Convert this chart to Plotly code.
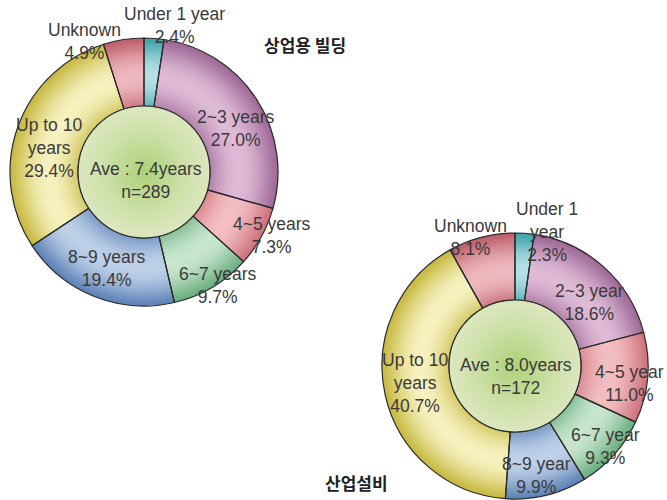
import math
import plotly.graph_objects as go

# ---- data ----
left_labels = ["Under 1 year", "2~3 years", "4~5 years", "6~7 years",
               "8~9 years", "Up to 10<br>years", "Unknown"]
left_shares = [2.4, 27.0, 7.3, 9.7, 19.4, 29.4, 4.9]
left_title = "상업용 빌딩"
left_center = "Ave : 7.4years<br>n=289"

right_labels = ["Under 1<br>year", "2~3 year", "4~5 year", "6~7 year",
                "8~9 year", "Up to 10<br>years", "Unknown"]
right_shares = [2.3, 18.6, 11.0, 9.3, 9.9, 40.7, 8.1]
right_title = "산업설비"
right_center = "Ave : 8.0years<br>n=172"

# (dark, light) per slice, for a radial shading
slice_colors = [
    ((62, 162, 170), (180, 224, 228)),
    ((158, 104, 150), (222, 186, 214)),
    ((206, 114, 124), (242, 190, 194)),
    ((106, 174, 126), (200, 230, 206)),
    ((92, 130, 182), (190, 208, 232)),
    ((198, 184, 64), (246, 241, 190)),
    ((190, 94, 106), (238, 184, 190)),
]

W, H = 667, 500
FONT = "Liberation Sans, Arial, sans-serif"
KFONT = "Noto Sans CJK KR, sans-serif"


def mix(a, b, w):
    return "rgb(%d,%d,%d)" % tuple(round(a[i] + (b[i] - a[i]) * w) for i in range(3))


def domain(cx, cy, r):
    return dict(x=[(cx - r) / W, (cx + r) / W],
                y=[max(0, (H - cy - r) / H), min(1, (H - cy + r) / H)])


def add_donut(fig, values, cx, cy, r_out, r_in, n_bands=24):
    step = (r_out - r_in) / n_bands
    for k in range(n_bands):
        r = r_out - k * step
        t = (r - step / 2 - r_in) / (r_out - r_in)
        w = max(0.0, math.sin(math.pi * (0.12 + 0.88 * t))) ** 1.2
        cols = [mix(d, l, w) for d, l in slice_colors]
        fig.add_trace(go.Pie(values=values, sort=False, direction="clockwise",
                             rotation=0, hole=r_in / r, domain=domain(cx, cy, r),
                             marker=dict(colors=cols, line=dict(width=0)),
                             textinfo="none", hoverinfo="skip", showlegend=False))
    # slice outlines
    fig.add_trace(go.Pie(values=values, sort=False, direction="clockwise",
                         rotation=0, hole=r_in / r_out, domain=domain(cx, cy, r_out),
                         marker=dict(colors=["rgba(0,0,0,0)"] * len(values),
                                     line=dict(color="#2a2a2a", width=1.2)),
                         textinfo="none", hoverinfo="skip", showlegend=False))
    # green centre disc
    edge, mid = (218, 230, 188), (174, 210, 122)
    m = 14
    for k in range(m):
        r = r_in * (1 - k / m)
        w = (k / (m - 1)) ** 1.2
        fig.add_trace(go.Pie(values=[1], sort=False, domain=domain(cx, cy, r),
                             marker=dict(colors=[mix(edge, mid, w)], line=dict(width=0)),
                             textinfo="none", hoverinfo="skip", showlegend=False))
    fig.add_trace(go.Pie(values=[1], domain=domain(cx, cy, r_in),
                         marker=dict(colors=["rgba(0,0,0,0)"],
                                     line=dict(color="#2a2a2a", width=1.2)),
                         textinfo="none", hoverinfo="skip", showlegend=False))


fig = go.Figure()
add_donut(fig, left_shares, 144, 172, 134, 66)
add_donut(fig, right_shares, 515, 366, 133, 66)

# label anchor points (pixels) for each slice text
left_pos = [(174, 25), (236, 128), (272, 235), (218, 285), (107, 268), (49, 148), (84, 42)]
right_pos = [(547, 232), (589, 302), (629, 383), (605, 446), (536, 475), (415, 383), (470, 237)]

annotations = []


def label(x, y, text, size=17.5, font=FONT, color="#3a3a3a", weight="normal"):
    annotations.append(dict(x=x / W, y=1 - y / H, xref="paper", yref="paper",
                            text=text, showarrow=False, xanchor="center", yanchor="middle",
                            font=dict(family=font, size=size, color=color, weight=weight)))


for (x, y), name, v in zip(left_pos, left_labels, left_shares):
    label(x, y, "%s<br>%.1f%%" % (name, v))
for (x, y), name, v in zip(right_pos, right_labels, right_shares):
    label(x, y, "%s<br>%.1f%%" % (name, v))

label(146, 180, left_center)
label(516, 376, right_center)
label(305, 45, left_title, size=17, font=KFONT, color="#222", weight="bold")
label(357, 482, right_title, size=17, font=KFONT, color="#222", weight="bold")

fig.update_layout(width=W, height=H, margin=dict(l=0, r=0, t=0, b=0),
                  paper_bgcolor="white", plot_bgcolor="white",
                  annotations=annotations, showlegend=False)

# the page body has a default 8px margin; drop it so the figure fills the window
fig.write_html("out.html", config={"displayModeBar": False},
               post_script="document.body.style.margin='0';")
